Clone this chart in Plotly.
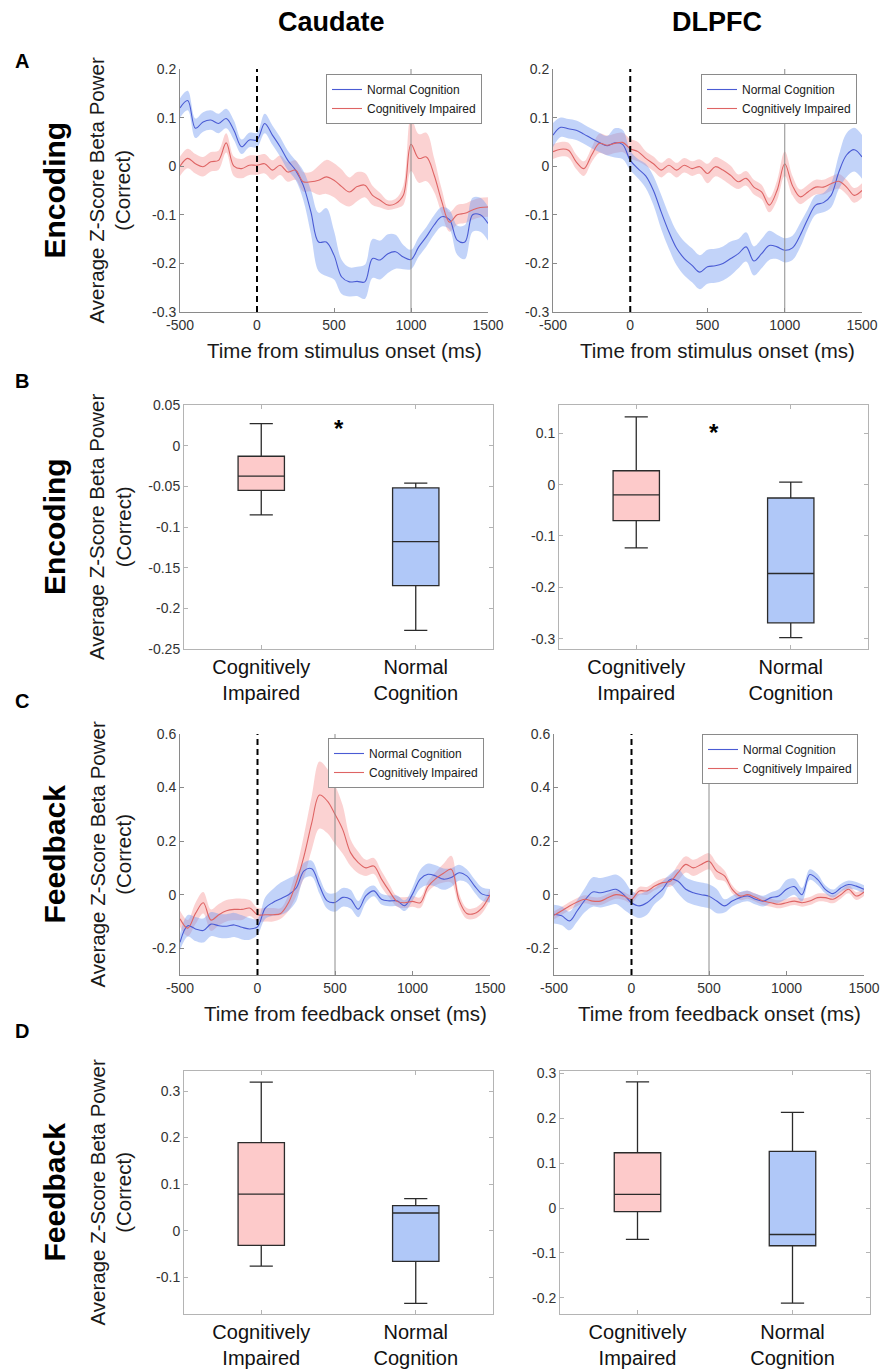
import plotly.graph_objects as go

W, H = 883, 1370
FONT = "Liberation Sans, Arial, Helvetica, sans-serif"

# ---------------- data ----------------
time_ms = [-500, -450, -400, -350, -300, -250, -200, -150, -100, -50, 0, 50, 100, 150, 200,
           250, 300, 350, 400, 450, 500, 550, 600, 650, 700, 750, 800, 850, 900, 950, 1000,
           1050, 1100, 1150, 1200, 1250, 1300, 1350, 1400, 1450, 1500]

series_names = ["Normal Cognition", "Cognitively Impaired"]
groups = ["Cognitively Impaired", "Normal Cognition"]

# A: Encoding, Caudate
enc_caud_nc = [0.12, 0.135, 0.078, 0.091, 0.095, 0.088, 0.098, 0.074, 0.04, 0.054, 0.054, 0.088, 0.064, 0.04,
               0.012, -0.008, -0.039, -0.094, -0.156, -0.156, -0.183, -0.228, -0.238, -0.237, -0.238, -0.19,
               -0.193, -0.18, -0.176, -0.187, -0.192, -0.166, -0.145, -0.121, -0.104, -0.11, -0.152, -0.156,
               -0.1, -0.1, -0.118]
enc_caud_nc_sem = [0.02, 0.02, 0.02, 0.02, 0.02, 0.02, 0.02, 0.02, 0.015, 0.015, 0.015, 0.02, 0.02, 0.02, 0.02,
                   0.02, 0.03, 0.045, 0.06, 0.07, 0.05, 0.035, 0.03, 0.03, 0.035, 0.04, 0.04, 0.04, 0.035, 0.025,
                   0.02, 0.02, 0.02, 0.02, 0.02, 0.02, 0.03, 0.035, 0.035, 0.035, 0.035]
enc_caud_ci = [0.0, 0.016, 0.005, -0.001, 0.009, 0.012, 0.048, 0.0, -0.005, 0.002, 0.002, 0.005, -0.008, 0.002,
               -0.012, -0.008, -0.032, -0.032, -0.029, -0.022, -0.029, -0.042, -0.053, -0.042, -0.039, -0.06,
               -0.07, -0.08, -0.077, -0.06, 0.045, 0.016, 0.019, -0.018, -0.073, -0.115, -0.1, -0.097, -0.09,
               -0.085, -0.084]
enc_caud_ci_sem = [0.02, 0.02, 0.02, 0.02, 0.02, 0.02, 0.02, 0.02, 0.02, 0.02, 0.02, 0.02, 0.02, 0.02, 0.02,
                   0.02, 0.02, 0.02, 0.03, 0.035, 0.035, 0.035, 0.03, 0.03, 0.025, 0.02, 0.015, 0.01, 0.01, 0.02,
                   0.055, 0.05, 0.05, 0.035, 0.025, 0.02, 0.02, 0.02, 0.02, 0.02, 0.02]

# A: Encoding, DLPFC
enc_dlpfc_nc = [0.064, 0.08, 0.077, 0.074, 0.066, 0.057, 0.049, 0.042, 0.048, 0.045, 0.012, -0.005, -0.02,
                -0.05, -0.094, -0.135, -0.169, -0.19, -0.204, -0.218, -0.207, -0.205, -0.2, -0.19, -0.18,
                -0.166, -0.195, -0.18, -0.163, -0.166, -0.173, -0.168, -0.142, -0.108, -0.08, -0.075, -0.06,
                -0.012, 0.023, 0.034, 0.019]
enc_dlpfc_nc_sem = [0.025, 0.02, 0.02, 0.02, 0.02, 0.02, 0.02, 0.02, 0.03, 0.03, 0.02, 0.02, 0.025, 0.03,
                    0.035, 0.035, 0.035, 0.035, 0.035, 0.035, 0.035, 0.035, 0.035, 0.035, 0.03, 0.03, 0.03,
                    0.03, 0.03, 0.025, 0.025, 0.025, 0.025, 0.02, 0.02, 0.02, 0.025, 0.035, 0.045, 0.045, 0.045]
enc_dlpfc_ci = [0.03, 0.035, 0.033, 0.009, -0.005, 0.023, 0.047, 0.043, 0.047, 0.049, 0.036, 0.03, 0.016,
                0.005, -0.008, 0.002, -0.008, 0.002, -0.005, -0.001, -0.015, -0.001, -0.008, -0.019, -0.032,
                -0.025, -0.043, -0.053, -0.08, -0.05, 0.005, -0.04, -0.063, -0.053, -0.043, -0.043, -0.036,
                -0.031, -0.043, -0.06, -0.05]
enc_dlpfc_ci_sem = [0.015, 0.015, 0.015, 0.015, 0.015, 0.015, 0.02, 0.02, 0.02, 0.02, 0.02, 0.02, 0.015, 0.015,
                    0.015, 0.015, 0.015, 0.015, 0.015, 0.015, 0.02, 0.02, 0.02, 0.02, 0.015, 0.015, 0.015,
                    0.015, 0.015, 0.02, 0.025, 0.02, 0.015, 0.015, 0.015, 0.015, 0.015, 0.015, 0.015, 0.015, 0.015]

# C: Feedback, Caudate
fb_caud_nc = [-0.178, -0.116, -0.128, -0.134, -0.11, -0.116, -0.118, -0.113, -0.122, -0.128, -0.12, -0.05,
              -0.029, -0.015, 0.0, 0.025, 0.089, 0.097, 0.033, -0.023, -0.029, -0.01, -0.017, -0.054, -0.004,
              0.014, -0.017, -0.023, -0.023, -0.041, 0.002, 0.058, 0.076, 0.07, 0.058, 0.064, 0.082, 0.07,
              0.033, 0.002, -0.004]
fb_caud_nc_sem = [0.03, 0.04, 0.045, 0.045, 0.045, 0.045, 0.045, 0.045, 0.045, 0.04, 0.03, 0.04, 0.05, 0.06,
                  0.06, 0.05, 0.03, 0.03, 0.03, 0.03, 0.035, 0.035, 0.035, 0.03, 0.025, 0.02, 0.02, 0.02, 0.02,
                  0.02, 0.025, 0.035, 0.04, 0.04, 0.04, 0.035, 0.03, 0.025, 0.025, 0.025, 0.025]
fb_caud_ci = [-0.09, -0.125, -0.07, -0.03, -0.095, -0.075, -0.06, -0.055, -0.055, -0.05, -0.075, -0.075,
              -0.075, -0.07, -0.03, 0.045, 0.144, 0.268, 0.372, 0.35, 0.3, 0.243, 0.157, 0.12, 0.1, 0.107,
              0.058, 0.014, -0.025, -0.03, -0.025, -0.03, 0.03, 0.06, 0.08, 0.095, -0.02, -0.07, -0.07,
              -0.048, 0.0]
fb_caud_ci_sem = [0.03, 0.03, 0.04, 0.04, 0.04, 0.04, 0.04, 0.04, 0.04, 0.03, 0.025, 0.025, 0.025, 0.02, 0.03,
                  0.05, 0.08, 0.1, 0.125, 0.12, 0.11, 0.09, 0.05, 0.04, 0.03, 0.03, 0.03, 0.025, 0.02, 0.02,
                  0.02, 0.02, 0.02, 0.025, 0.035, 0.05, 0.025, 0.02, 0.02, 0.02, 0.02]

# C: Feedback, DLPFC
fb_dlpfc_nc = [-0.073, -0.079, -0.098, -0.06, -0.02, 0.01, 0.007, 0.014, 0.02, 0.0, -0.03, -0.042, -0.03,
               -0.005, 0.02, 0.057, 0.05, 0.02, 0.007, 0.0, -0.006, -0.024, -0.042, -0.024, -0.011, -0.005,
               -0.017, -0.024, -0.011, -0.005, 0.02, 0.03, 0.0, 0.075, 0.057, 0.02, 0.004, 0.025, 0.038,
               0.032, 0.02]
fb_dlpfc_nc_sem = [0.035, 0.035, 0.035, 0.04, 0.045, 0.055, 0.055, 0.055, 0.055, 0.055, 0.045, 0.045, 0.045,
                   0.03, 0.03, 0.02, 0.045, 0.045, 0.045, 0.045, 0.045, 0.045, 0.025, 0.02, 0.02, 0.02, 0.02,
                   0.02, 0.02, 0.025, 0.035, 0.03, 0.025, 0.02, 0.02, 0.015, 0.015, 0.015, 0.015, 0.015, 0.015]
fb_dlpfc_ci = [-0.077, -0.06, -0.042, -0.027, -0.017, -0.024, -0.024, -0.011, 0.0, -0.005, -0.017, 0.014,
               0.014, 0.032, 0.045, 0.05, 0.082, 0.113, 0.1, 0.113, 0.125, 0.088, 0.07, 0.02, -0.005, 0.0,
               -0.011, -0.024, -0.03, -0.036, -0.03, -0.024, -0.03, -0.024, -0.011, -0.011, -0.017, 0.0,
               0.02, -0.005, 0.01]
fb_dlpfc_ci_sem = [0.015, 0.015, 0.015, 0.015, 0.015, 0.015, 0.015, 0.015, 0.015, 0.015, 0.015, 0.015, 0.015,
                   0.015, 0.015, 0.02, 0.03, 0.03, 0.03, 0.03, 0.03, 0.03, 0.02, 0.015, 0.015, 0.015, 0.015,
                   0.015, 0.015, 0.015, 0.015, 0.015, 0.015, 0.015, 0.015, 0.015, 0.015, 0.015, 0.015, 0.015,
                   0.015]

# B / D box-plot statistics, order = groups (Cognitively Impaired, Normal Cognition)
enc_caud_lo = [-0.085, -0.227]
enc_caud_q1 = [-0.055, -0.172]
enc_caud_med = [-0.0375, -0.118]
enc_caud_q3 = [-0.013, -0.052]
enc_caud_hi = [0.027, -0.046]

enc_dlpfc_lo = [-0.123, -0.298]
enc_dlpfc_q1 = [-0.070, -0.269]
enc_dlpfc_med = [-0.020, -0.173]
enc_dlpfc_q3 = [0.027, -0.026]
enc_dlpfc_hi = [0.132, 0.005]

fb_caud_lo = [-0.076, -0.156]
fb_caud_q1 = [-0.0315, -0.066]
fb_caud_med = [0.0786, 0.038]
fb_caud_q3 = [0.189, 0.054]
fb_caud_hi = [0.319, 0.069]

fb_dlpfc_lo = [-0.070, -0.212]
fb_dlpfc_q1 = [-0.008, -0.084]
fb_dlpfc_med = [0.0305, -0.059]
fb_dlpfc_q3 = [0.123, 0.126]
fb_dlpfc_hi = [0.281, 0.213]

# event markers (ms)
onset_ms = 0
enc_offset_ms = 1000
fb_offset_ms = 500

time_ticks = [-500, 0, 500, 1000, 1500]
enc_ts_yticks = [-0.3, -0.2, -0.1, 0, 0.1, 0.2]
fb_ts_yticks = [-0.2, 0, 0.2, 0.4, 0.6]
enc_caud_box_yticks = [-0.25, -0.2, -0.15, -0.1, -0.05, 0, 0.05]
enc_dlpfc_box_yticks = [-0.3, -0.2, -0.1, 0, 0.1]
fb_caud_box_yticks = [-0.1, 0, 0.1, 0.2, 0.3]
fb_dlpfc_box_yticks = [-0.2, -0.1, 0, 0.1, 0.2, 0.3]

# ---------------- styling ----------------
BLUE_LINE = "#4a5bd4"
RED_LINE = "#de6464"
BLUE_BAND = "rgba(110,150,240,0.42)"
RED_BAND = "rgba(245,130,130,0.36)"
BLUE_BOX = "#b0c8f8"
RED_BOX = "#fdcaca"
AX_COL = "#8a8a8a"
BOX_AX_COL = "#b4b4b4"
TICK_FONT = dict(family=FONT, size=14, color="#333333")


def px(x):
    return x / W


def py(y):
    return 1 - y / H


def lab(v):
    return f"{v:g}"


fig = go.Figure()

# axis boxes in pixels: (x0, x1, ytop, ybottom)
boxes = {
    1: (180, 488, 69, 312),
    2: (553, 862, 69, 312),
    3: (184, 493, 405, 649),
    4: (559, 868, 405, 649),
    5: (180, 490, 734, 975),
    6: (554, 864, 734, 975),
    7: (184, 493, 1071, 1314),
    8: (560, 870, 1071, 1314),
}

line_panels = [
    (1, "legend", enc_caud_nc, enc_caud_nc_sem, enc_caud_ci, enc_caud_ci_sem),
    (2, "legend2", enc_dlpfc_nc, enc_dlpfc_nc_sem, enc_dlpfc_ci, enc_dlpfc_ci_sem),
    (5, "legend3", fb_caud_nc, fb_caud_nc_sem, fb_caud_ci, fb_caud_ci_sem),
    (6, "legend4", fb_dlpfc_nc, fb_dlpfc_nc_sem, fb_dlpfc_ci, fb_dlpfc_ci_sem),
]


def ax_names(i):
    s = "" if i == 1 else str(i)
    return "x" + s, "y" + s


for i, leg, nc, nc_sem, ci, ci_sem in line_panels:
    xa, ya = ax_names(i)
    for mean, sem, col in [(ci, ci_sem, RED_BAND), (nc, nc_sem, BLUE_BAND)]:
        lower = [m - s for m, s in zip(mean, sem)]
        upper = [m + s for m, s in zip(mean, sem)]
        fig.add_trace(go.Scatter(x=time_ms, y=lower, mode="lines", line=dict(width=0, shape="spline"),
                                 showlegend=False, hoverinfo="skip", legend=leg, xaxis=xa, yaxis=ya))
        fig.add_trace(go.Scatter(x=time_ms, y=upper, mode="lines", line=dict(width=0, shape="spline"),
                                 fill="tonexty", fillcolor=col, showlegend=False, hoverinfo="skip",
                                 legend=leg, xaxis=xa, yaxis=ya))
    for mean, col, name in [(nc, BLUE_LINE, series_names[0]), (ci, RED_LINE, series_names[1])]:
        fig.add_trace(go.Scatter(x=time_ms, y=mean, mode="lines", name=name,
                                 line=dict(color=col, width=1.1, shape="spline"),
                                 legend=leg, xaxis=xa, yaxis=ya))

box_panels = [
    (3, enc_caud_lo, enc_caud_q1, enc_caud_med, enc_caud_q3, enc_caud_hi),
    (4, enc_dlpfc_lo, enc_dlpfc_q1, enc_dlpfc_med, enc_dlpfc_q3, enc_dlpfc_hi),
    (7, fb_caud_lo, fb_caud_q1, fb_caud_med, fb_caud_q3, fb_caud_hi),
    (8, fb_dlpfc_lo, fb_dlpfc_q1, fb_dlpfc_med, fb_dlpfc_q3, fb_dlpfc_hi),
]
group_labels = [g.replace(" ", "<br>") for g in groups]
box_fill = [RED_BOX, BLUE_BOX]

for i, lo, q1, med, q3, hi in box_panels:
    xa, ya = ax_names(i)
    for k in range(2):
        fig.add_trace(go.Box(x=[group_labels[k]], lowerfence=[lo[k]], q1=[q1[k]], median=[med[k]],
                             q3=[q3[k]], upperfence=[hi[k]], width=0.3, whiskerwidth=0.5,
                             fillcolor=box_fill[k], line=dict(color="#2b2b2b", width=1.3),
                             boxpoints=False, showlegend=False, hoverinfo="skip",
                             xaxis=xa, yaxis=ya))

layout = dict(width=W, height=H, margin=dict(l=0, r=0, t=0, b=0), autosize=False,
              paper_bgcolor="white", plot_bgcolor="white", template="none",
              font=dict(family=FONT, color="#222222"), boxmode="overlay")

y_ranges = {1: [-0.3, 0.2], 2: [-0.3, 0.2], 5: [-0.3, 0.6], 6: [-0.3, 0.6],
            3: [-0.25, 0.05], 4: [-0.32, 0.155], 7: [-0.179, 0.343], 8: [-0.236, 0.305]}
y_ticks = {1: enc_ts_yticks, 2: enc_ts_yticks, 5: fb_ts_yticks, 6: fb_ts_yticks,
           3: enc_caud_box_yticks, 4: enc_dlpfc_box_yticks, 7: fb_caud_box_yticks, 8: fb_dlpfc_box_yticks}

for i, (x0, x1, yt, yb) in boxes.items():
    xa, ya = ax_names(i)
    xkey = "xaxis" if i == 1 else f"xaxis{i}"
    ykey = "yaxis" if i == 1 else f"yaxis{i}"
    is_box = i in (3, 4, 7, 8)
    col = BOX_AX_COL if is_box else AX_COL
    common = dict(showline=True, linecolor=col, linewidth=1, ticks="inside", ticklen=4, tickcolor=col,
                  showgrid=False, zeroline=False, mirror="ticks" if is_box else False,
                  fixedrange=True)
    if is_box:
        xax = dict(domain=[px(x0), px(x1)], anchor=ya, type="category", categoryorder="array",
                   categoryarray=group_labels, range=[-0.5, 1.5],
                   tickfont=dict(family=FONT, size=20, color="#111111"), **common)
    else:
        xax = dict(domain=[px(x0), px(x1)], anchor=ya, range=[-500, 1500], tickvals=time_ticks,
                   ticktext=[lab(v) for v in time_ticks], tickfont=TICK_FONT, **common)
    yax = dict(domain=[py(yb), py(yt)], anchor=xa, range=y_ranges[i], tickvals=y_ticks[i],
               ticktext=[lab(v) for v in y_ticks[i]], tickfont=TICK_FONT, **common)
    layout[xkey] = xax
    layout[ykey] = yax

# legends
leg_pos = {"legend": (482, 74), "legend2": (857, 74), "legend3": (484, 738), "legend4": (858, 734)}
for k, (lx, ly) in leg_pos.items():
    layout[k] = dict(x=px(lx), y=py(ly), xanchor="right", yanchor="top", bgcolor="white",
                     bordercolor="#8a8a8a", borderwidth=1, itemwidth=30, tracegroupgap=0,
                     traceorder="normal",
                     font=dict(family=FONT, size=12, color="#1a1a1a"))

# vertical event lines
shapes = []
for i, off in [(1, enc_offset_ms), (2, enc_offset_ms), (5, fb_offset_ms), (6, fb_offset_ms)]:
    xa, ya = ax_names(i)
    shapes.append(dict(type="line", xref=xa, yref=f"{ya} domain", x0=off, x1=off, y0=0, y1=1,
                       line=dict(color="#8c8c8c", width=1)))
    shapes.append(dict(type="line", xref=xa, yref=f"{ya} domain", x0=onset_ms, x1=onset_ms, y0=0, y1=1,
                       line=dict(color="black", width=2, dash="6px,4px")))
layout["shapes"] = shapes

ann = []
# column titles
for txt, cx in [("Caudate", 331), ("DLPFC", 717)]:
    ann.append(dict(text=txt, x=px(cx), y=py(22), xref="paper", yref="paper", showarrow=False,
                    xanchor="center", yanchor="middle",
                    font=dict(family=FONT, size=27, color="black", weight="bold")))
# panel letters
for txt, cy in [("A", 61), ("B", 381), ("C", 701), ("D", 1031)]:
    ann.append(dict(text=txt, x=px(22), y=py(cy), xref="paper", yref="paper", showarrow=False,
                    xanchor="center", yanchor="middle",
                    font=dict(family=FONT, size=20, color="black", weight="bold")))
# row labels + y titles
for txt, i in [("Encoding", 1), ("Encoding", 3), ("Feedback", 5), ("Feedback", 7)]:
    x0, x1, yt, yb = boxes[i]
    cy = (yt + yb) / 2
    ann.append(dict(text=txt, x=px(54), y=py(cy), xref="paper", yref="paper", showarrow=False,
                    textangle=-90, xanchor="center", yanchor="middle",
                    font=dict(family=FONT, size=30, color="black", weight="bold")))
    ann.append(dict(text="Average Z-Score Beta Power<br>(Correct)", x=px(110), y=py(cy),
                    xref="paper", yref="paper", showarrow=False, textangle=-90,
                    xanchor="center", yanchor="middle",
                    font=dict(family=FONT, size=20.5, color="#1a1a1a")))
# x titles
for txt, i in [("Time from stimulus onset (ms)", 1), ("Time from stimulus onset (ms)", 2),
               ("Time from feedback onset (ms)", 5), ("Time from feedback onset (ms)", 6)]:
    x0, x1, yt, yb = boxes[i]
    ann.append(dict(text=txt, x=px((x0 + x1) / 2 + 10), y=py(yb + 38), xref="paper", yref="paper",
                    showarrow=False, xanchor="center", yanchor="middle",
                    font=dict(family=FONT, size=20.5, color="#1a1a1a")))
# significance stars
for i, yv in [(3, 0.021), (4, 0.102)]:
    xa, ya = ax_names(i)
    ann.append(dict(text="*", x=0.5, y=yv, xref=xa, yref=ya, showarrow=False,
                    xanchor="center", yanchor="middle",
                    font=dict(family=FONT, size=24, color="black", weight="bold")))
layout["annotations"] = ann

fig.update_layout(**layout)
fig.write_html("out.html", config={"displayModeBar": False},
               post_script="document.body.style.margin='0px';")
